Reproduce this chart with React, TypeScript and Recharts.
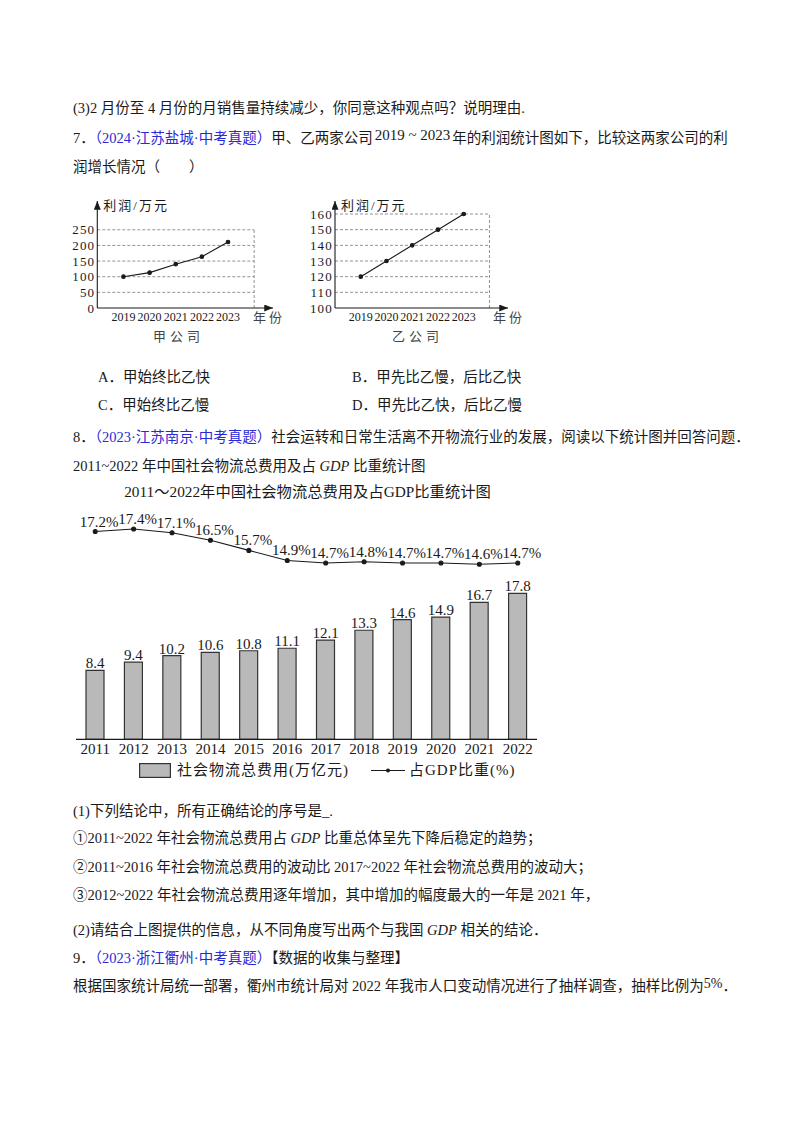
import React from "react";
import { LineChart, Line, XAxis, YAxis, ReferenceLine, ComposedChart, Bar, LabelList } from "recharts";

// 第7题：甲、乙两家公司利润（万元）
const profitYears = [2019, 2020, 2021, 2022, 2023];
const profitJia = [100, 113, 140, 164, 211];
const profitYi = [120, 130, 140, 150, 160];
const jiaTicks = [0, 50, 100, 150, 200, 250];
const yiTicks = [100, 110, 120, 130, 140, 150, 160];

// 第8题：社会物流总费用（万亿元）及占GDP比重（%）
const costYears = ["2011", "2012", "2013", "2014", "2015", "2016", "2017", "2018", "2019", "2020", "2021", "2022"];
const logisticsCost = [8.4, 9.4, 10.2, 10.6, 10.8, 11.1, 12.1, 13.3, 14.6, 14.9, 16.7, 17.8];
const gdpShare = [17.2, 17.4, 17.1, 16.5, 15.7, 14.9, 14.7, 14.8, 14.7, 14.7, 14.6, 14.7];

const SERIF = '"Liberation Serif", "Noto Sans CJK SC", serif';
const BLUE = "#2a2ad6";
const INK = "#1a1a1a";

const jiaData = profitYears.map((year, i) => ({ year, v: profitJia[i] }));
const yiData = profitYears.map((year, i) => ({ year, v: profitYi[i] }));
const costData = costYears.map((year, i) => ({ year, cost: logisticsCost[i], share: gdpShare[i] }));

function Txt({ x, y, children, size = 14.5, style }: any) {
  return (
    <div
      style={{
        position: "absolute",
        left: x,
        top: y - 11,
        height: 22,
        lineHeight: "22px",
        fontSize: size,
        whiteSpace: "nowrap",
        fontFamily: SERIF,
        color: INK,
        ...style,
      }}
    >
      {children}
    </div>
  );
}

const Src = ({ children }: any) => <span style={{ color: BLUE }}>{children}</span>;
const Gdp = () => <i>GDP</i>;

function ProfitChart({ id, left, data, ticks, domain, axisWidth, right, name }: any) {
  const base = ticks[0];
  const top = ticks[ticks.length - 1];
  const gridLines = ticks.slice(1);
  return (
    <div style={{ position: "absolute", left, top: 190 }}>
      <LineChart width={240} height={160} data={data} margin={{ top: 11, right, left: 0, bottom: 0 }}>
        <defs>
          <marker id={`arr-${id}`} viewBox="0 0 10 8" refX="10" refY="4" markerWidth="9" markerHeight="7" markerUnits="userSpaceOnUse" orient="auto-start-reverse">
            <path d="M0,0 L10,4 L0,8 z" fill={INK} />
          </marker>
        </defs>
        <XAxis
          type="number"
          dataKey="year"
          domain={[2018, 2024.72]}
          ticks={profitYears}
          interval={0}
          allowDataOverflow
          height={42}
          tickLine={false}
          tickSize={0}
          tickMargin={4}
          axisLine={{ stroke: INK, strokeWidth: 1.1, markerEnd: `url(#arr-${id})` }}
          tick={{ fontSize: 12, fill: INK, fontFamily: SERIF }}
        />
        <YAxis
          type="number"
          domain={domain}
          ticks={ticks}
          interval={0}
          allowDataOverflow
          width={axisWidth}
          tickLine={false}
          tickSize={0}
          tickMargin={2}
          axisLine={{ stroke: INK, strokeWidth: 1.1, markerStart: `url(#arr-${id})` }}
          tick={{ fontSize: 13, fill: INK, fontFamily: SERIF, letterSpacing: 1.2 }}
        />
        {gridLines.map((t: number) => (
          <ReferenceLine key={t} segment={[{ x: 2018, y: t }, { x: 2024, y: t }]} stroke="#777" strokeWidth={0.8} strokeDasharray="3 2" />
        ))}
        <ReferenceLine segment={[{ x: 2024, y: base }, { x: 2024, y: top }]} stroke="#777" strokeWidth={0.8} strokeDasharray="3 2" />
        <Line dataKey="v" stroke={INK} strokeWidth={1.1} dot={{ r: 1.8, fill: INK, stroke: INK }} isAnimationActive={false} />
      </LineChart>
      <div style={{ position: "absolute", left: axisWidth + 6, top: 8, fontSize: 13, letterSpacing: 2, fontFamily: SERIF, color: INK, lineHeight: "16px" }}>
        利润/万元
      </div>
      <div style={{ position: "absolute", left: 193, top: 120, fontSize: 13, letterSpacing: 3, fontFamily: SERIF, color: "#444", lineHeight: "16px" }}>
        年份
      </div>
      <div style={{ position: "absolute", left: name.left, top: 139, fontSize: 13, letterSpacing: 4, fontFamily: SERIF, color: "#444", lineHeight: "16px" }}>
        {name.text}
      </div>
    </div>
  );
}

const barLabel = (p: any) => (
  <text x={p.x + p.width / 2} y={p.y - 2} textAnchor="middle" fontSize={15} fontFamily={SERIF} fill={INK}>
    {p.value}
  </text>
);

const shareLabel = (p: any) => (
  <text x={p.x + 4} y={p.y - 5} textAnchor="middle" fontSize={15} fontFamily={SERIF} fill={INK}>
    {`${p.value}%`}
  </text>
);

function LogisticsChart() {
  return (
    <div style={{ position: "absolute", left: 60, top: 480 }}>
      <ComposedChart width={500} height={290} data={costData} margin={{ top: 20, right: 23, left: 16, bottom: 0 }}>
        <XAxis
          dataKey="year"
          height={30.7}
          tickLine={false}
          tickSize={4}
          tickMargin={0}
          interval={0}
          axisLine={{ stroke: INK, strokeWidth: 1.2 }}
          tick={{ fontSize: 15, fill: INK, fontFamily: SERIF }}
        />
        <YAxis yAxisId="cost" hide domain={[0, 29.18]} allowDataOverflow />
        <YAxis yAxisId="share" hide orientation="right" domain={[0.708, 19.7]} allowDataOverflow />
        <Bar yAxisId="cost" dataKey="cost" barSize={18} fill="#b8b9b8" stroke="#333" strokeWidth={1.2} isAnimationActive={false}>
          <LabelList dataKey="cost" content={barLabel} />
        </Bar>
        <Line
          yAxisId="share"
          dataKey="share"
          stroke={INK}
          strokeWidth={1.1}
          dot={{ r: 2, fill: INK, stroke: INK }}
          isAnimationActive={false}
        >
          <LabelList dataKey="share" content={shareLabel} />
        </Line>
      </ComposedChart>
      <div
        style={{
          position: "absolute",
          left: 0,
          width: 495,
          top: 2,
          textAlign: "center",
          fontSize: 15.3,
          fontFamily: SERIF,
          color: INK,
          lineHeight: "20px",
        }}
      >
        2011～2022年中国社会物流总费用及占GDP比重统计图
      </div>
      <div style={{ position: "absolute", left: 79, top: 281, display: "flex", alignItems: "center", fontSize: 15, fontFamily: SERIF, color: INK, lineHeight: "18px" }}>
        <svg width={32} height={15} style={{ marginRight: 6 }}>
          <rect x={0.6} y={0.6} width={30.8} height={13.8} fill="#b8b9b8" stroke="#333" strokeWidth={1.2} />
        </svg>
        <span style={{ letterSpacing: 1 }}>社会物流总费用(万亿元)</span>
        <svg width={34} height={15} style={{ marginLeft: 22, marginRight: 4 }}>
          <line x1={0} y1={7.5} x2={34} y2={7.5} stroke={INK} strokeWidth={1.2} />
          <circle cx={17} cy={7.5} r={2} fill={INK} />
        </svg>
        <span style={{ letterSpacing: 1 }}>占GDP比重(%)</span>
      </div>
    </div>
  );
}

export default function App() {
  return (
    <div style={{ position: "absolute", left: 0, top: 0, width: 800, height: 1132, background: "#fff", overflow: "hidden" }}>
      <Txt x={73} y={108}>(3)2 月份至 4 月份的月销售量持续减少，你同意这种观点吗？说明理由.</Txt>
      <Txt x={73} y={138}>
        7．<Src>（2024·江苏盐城·中考真题）</Src>甲、乙两家公司<span style={{ fontSize: 15, position: "relative", top: -3, margin: "0 2px" }}>2019 ~ 2023</span>年的利润统计图如下，比较这两家公司的利
      </Txt>
      <Txt x={73} y={167}>润增长情况（　　）</Txt>

      <ProfitChart
        id="jia"
        left={60}
        data={jiaData}
        ticks={jiaTicks}
        domain={[0, 342]}
        axisWidth={37.3}
        right={27}
        name={{ text: "甲公司", left: 93 }}
      />
      <ProfitChart
        id="yi"
        left={300}
        data={yiData}
        ticks={yiTicks}
        domain={[100, 168.3]}
        axisWidth={35}
        right={32}
        name={{ text: "乙公司", left: 92 }}
      />

      <Txt x={98} y={377}>A．甲始终比乙快</Txt>
      <Txt x={352} y={377}>B．甲先比乙慢，后比乙快</Txt>
      <Txt x={98} y={405}>C．甲始终比乙慢</Txt>
      <Txt x={352} y={405}>D．甲先比乙快，后比乙慢</Txt>
      <Txt x={73} y={437}>
        8．<Src>（2023·江苏南京·中考真题）</Src>社会运转和日常生活离不开物流行业的发展，阅读以下统计图并回答问题．
      </Txt>
      <Txt x={73} y={466}>
        2011~2022 年中国社会物流总费用及占 <Gdp /> 比重统计图
      </Txt>

      <LogisticsChart />

      <Txt x={73} y={811}>(1)下列结论中，所有正确结论的序号是_.</Txt>
      <Txt x={73} y={838}>
        ①2011~2022 年社会物流总费用占 <Gdp /> 比重总体呈先下降后稳定的趋势；
      </Txt>
      <Txt x={73} y={867}>②2011~2016 年社会物流总费用的波动比 2017~2022 年社会物流总费用的波动大；</Txt>
      <Txt x={73} y={895}>③2012~2022 年社会物流总费用逐年增加，其中增加的幅度最大的一年是 2021 年，</Txt>
      <Txt x={73} y={930}>
        (2)请结合上图提供的信息，从不同角度写出两个与我国 <Gdp /> 相关的结论．
      </Txt>
      <Txt x={73} y={958}>
        9．<Src>（2023·浙江衢州·中考真题）</Src>【数据的收集与整理】
      </Txt>
      <Txt x={73} y={986}>
        根据国家统计局统一部署，衢州市统计局对 2022 年我市人口变动情况进行了抽样调查，抽样比例为
        <span style={{ fontSize: 14, position: "relative", top: -3 }}>5%</span>．
      </Txt>
    </div>
  );
}
